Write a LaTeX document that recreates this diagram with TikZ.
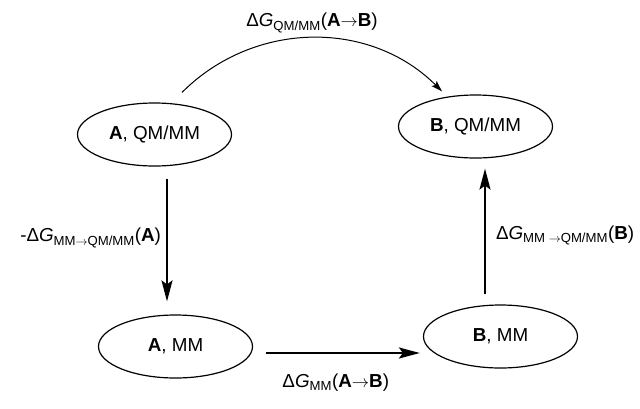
\documentclass[tikz,border=0pt]{standalone}
\usepackage{fontspec}
\setmainfont{Liberation Sans}
\usetikzlibrary{arrows.meta,shapes.geometric}
\newcommand{\dG}{Δ\textit{G}}
\newcommand{\mysub}[1]{\textsubscript{#1}}
\newcommand{\myto}{\ensuremath{\rightarrow}}
\begin{document}
\begin{tikzpicture}[x=1pt,y=-1pt,
  font=\fontsize{18.8}{22}\selectfont,
  state/.style={ellipse, draw, line width=1.2pt, minimum width=154pt, minimum height=63pt, inner sep=0pt},
  bigarrow/.style={line width=2pt, -{Stealth[length=21pt,width=11pt,inset=4pt]}},
  thinarrow/.style={line width=1pt, -{Stealth[length=11pt,width=7pt,inset=2pt]}},
  lbl/.style={inner sep=0pt}]
\useasboundingbox (0,0) rectangle (640,408);
\node[state] (AQ) at (154.5,134.5) {\textbf{A}, QM/MM};
\node[state] (BQ) at (475.5,126.5) {\textbf{B}, QM/MM};
\node[state] (AM) at (175.5,346.5) {\textbf{A}, MM};
\node[state] (BM) at (500.5,336.5) {\textbf{B}, MM};
\draw[thinarrow] ([shift={(27.5,-10)}]AQ.north) to[out=45,in=135]
  node[lbl, yshift=15pt] {\dG\mysub{QM/MM}(\textbf{A}\myto\textbf{B})}
  ([shift={(-33.5,-3)}]BQ.north);
\draw[bigarrow] ([shift={(12.5,12)}]AQ.south) --
  node[lbl, anchor=east, xshift=-5pt, yshift=2pt] {-\dG\mysub{MM\myto QM/MM}(\textbf{A})}
  ([shift={(-8.5,-13)}]AM.north);
\draw[bigarrow] ([shift={(12.5,6.5)}]AM.east) --
  node[lbl, xshift=-7pt, yshift=-30pt] {\dG\mysub{MM}(\textbf{A}\myto\textbf{B})}
  ([shift={(-3,16.5)}]BM.west);
\draw[bigarrow] ([shift={(-15.5,-10)}]BM.north) --
  node[lbl, anchor=west, xshift=10pt, yshift=-4pt] {\dG\mysub{MM \myto QM/MM}(\textbf{B})}
  ([shift={(9.5,10)}]BQ.south);
\end{tikzpicture}
\end{document}
